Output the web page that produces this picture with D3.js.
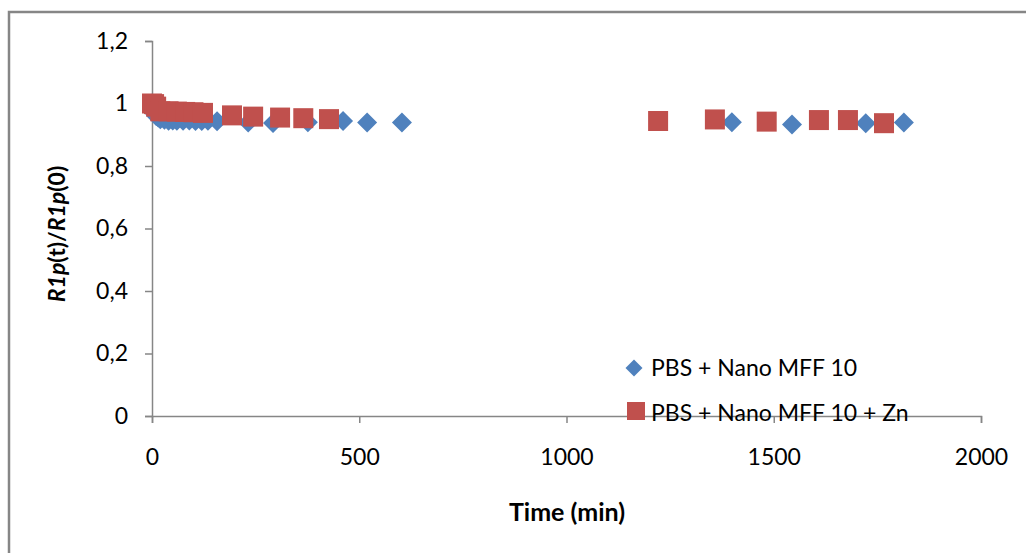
<!DOCTYPE html>
<html>
<head>
<meta charset="utf-8">
<script src="https://cdn.jsdelivr.net/npm/d3@7"></script>
<style>
  body { margin: 0; background: #fff; }
  text { font-family: Lato, "Open Sans", sans-serif; fill: #000; }
</style>
</head>
<body>
<div id="chart"></div>
<script>
// PBS + Nano MFF 10
let blueTime = [0, 2, 5, 10, 15, 20, 30, 40, 50, 60, 75, 90, 105, 120, 135, 157, 232, 292, 376, 461, 519, 603, 1399, 1544, 1722, 1814];
let blueVal  = [1.0, 0.99, 0.97, 0.96, 0.955, 0.95, 0.948, 0.945, 0.946, 0.945, 0.945, 0.946, 0.944, 0.944, 0.945, 0.943, 0.939, 0.938, 0.940, 0.944, 0.939, 0.939, 0.940, 0.933, 0.937, 0.939];
// PBS + Nano MFF 10 + Zn
let redTime = [0, 5, 10, 20, 40, 60, 80, 100, 123, 193, 244, 309, 365, 427, 1221, 1358, 1483, 1609, 1679, 1766];
let redVal  = [1.0, 0.998, 0.99, 0.975, 0.975, 0.974, 0.973, 0.972, 0.970, 0.962, 0.958, 0.955, 0.953, 0.950, 0.944, 0.949, 0.942, 0.947, 0.947, 0.937];

let xTicks = [0, 500, 1000, 1500, 2000];
let yTicks = [0, 0.2, 0.4, 0.6, 0.8, 1, 1.2];
let seriesNames = ['PBS + Nano MFF 10', 'PBS + Nano MFF 10 + Zn'];

let dim = {'width': 1026, 'height': 553};
let axisColor = '#868686';
let blue = '#4F81BD', red = '#C0504D';

let svg = d3.select('#chart').append('svg')
            .attr('width', dim.width)
            .attr('height', dim.height);

// outer chart border (only top and left visible)
svg.append('path')
   .attr('d', 'M9,560 L9,12 L1040,12')
   .attr('fill', 'none')
   .attr('stroke', axisColor)
   .attr('stroke-width', 2.5);

let x = d3.scaleLinear().domain([0, 2000]).range([152, 981]);
let y = d3.scaleLinear().domain([0, 1.2]).range([416, 41]);

let fmt = d => d3.format('~g')(d).replace('.', ',');

// y axis
let yAxis = svg.append('g')
    .attr('transform', 'translate(152,0)')
    .call(d3.axisLeft(y).tickValues(yTicks).tickSize(7).tickPadding(17).tickFormat(fmt));
// x axis
let xAxis = svg.append('g')
    .attr('transform', 'translate(0,416)')
    .call(d3.axisBottom(x).tickValues(xTicks).tickSize(7).tickPadding(26).tickFormat(d => d));

[xAxis, yAxis].forEach(function(a){
    a.select('.domain').attr('stroke', axisColor).attr('stroke-width', 1.5);
    a.selectAll('.tick line').attr('stroke', axisColor).attr('stroke-width', 1.5);
    a.selectAll('.tick text').attr('font-size', 23).attr('font-family', 'Lato, sans-serif').attr('fill', '#000');
});

let blueData = blueTime.map((t, i) => ({t: t, v: blueVal[i]}));
let redData = redTime.map((t, i) => ({t: t, v: redVal[i]}));

let diamond = 'M0,-10 L10,0 L0,10 L-10,0 Z';

svg.append('g').selectAll('path')
    .data(blueData)
    .join('path')
    .attr('d', diamond)
    .attr('transform', d => 'translate(' + x(d.t) + ',' + y(d.v) + ')')
    .attr('fill', blue);

svg.append('g').selectAll('rect')
    .data(redData)
    .join('rect')
    .attr('x', d => x(d.t) - 10)
    .attr('y', d => y(d.v) - 10)
    .attr('width', 20)
    .attr('height', 20)
    .attr('fill', red);

// axis titles
svg.append('text')
    .attr('x', 567)
    .attr('y', 521)
    .attr('text-anchor', 'middle')
    .attr('font-size', 25)
    .attr('font-weight', 'bold')
    .text('Time (min)');

let yt = svg.append('text')
    .attr('transform', 'translate(65,234) rotate(-90)')
    .attr('text-anchor', 'middle')
    .attr('font-size', 23)
    .attr('font-weight', 'bold');
yt.append('tspan').attr('font-style', 'italic').text('R1p');
yt.append('tspan').text('(t)/');
yt.append('tspan').attr('font-style', 'italic').text('R1p');
yt.append('tspan').text('(0)');

// legend
let legend = svg.append('g');
legend.append('path')
    .attr('d', diamond)
    .attr('transform', 'translate(634,368) scale(0.85)')
    .attr('fill', blue);
legend.append('rect')
    .attr('x', 627).attr('y', 402)
    .attr('width', 18).attr('height', 18)
    .attr('fill', red);
legend.selectAll('text.leg')
    .data(seriesNames)
    .join('text')
    .attr('class', 'leg')
    .attr('x', 651)
    .attr('y', (d, i) => 376 + i * 45)
    .attr('font-size', 23)
    .text(d => d);
</script>
</body>
</html>
